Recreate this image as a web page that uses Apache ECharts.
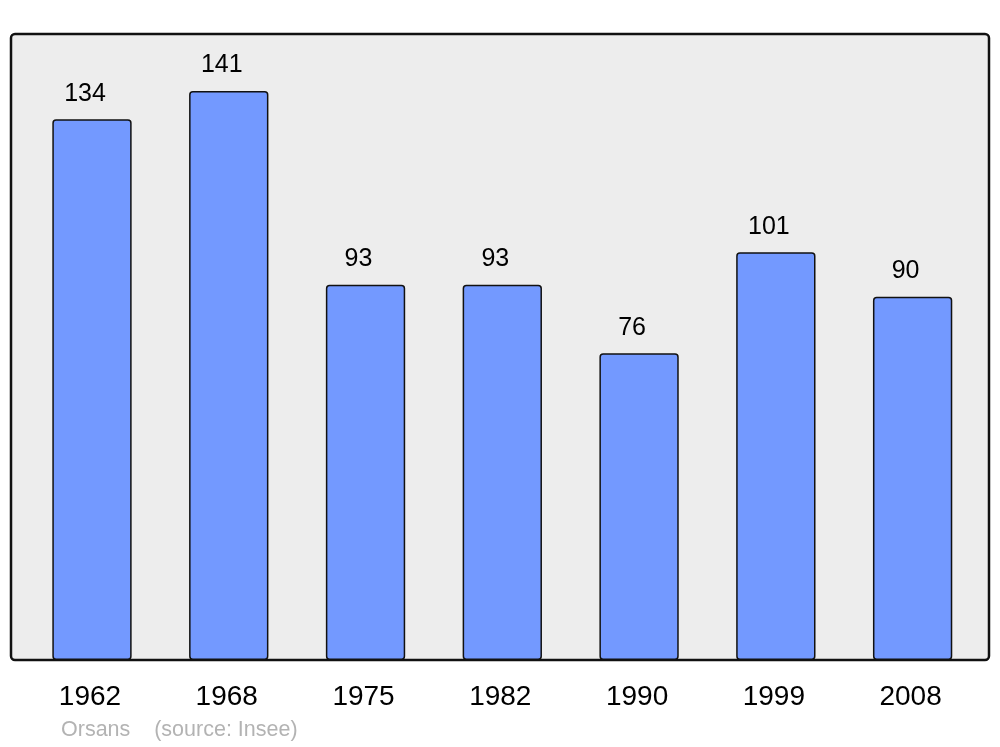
<!DOCTYPE html>
<html>
<head>
<meta charset="utf-8">
<script src="https://cdn.jsdelivr.net/npm/echarts@6/dist/echarts.min.js"></script>
<style>html,body{margin:0;padding:0;background:#fff}#c{width:1000px;height:747px}</style>
</head>
<body>
<div id="c"></div>
<script>
const categories = ['1962', '1968', '1975', '1982', '1990', '1999', '2008'];
const population = [134, 141, 93, 93, 76, 101, 90];
const footerName = 'Orsans';
const footerSource = '(source: Insee)';

const chart = echarts.init(document.getElementById('c'), null, {renderer: 'canvas'});
chart.setOption({
  animation: false,
  backgroundColor: '#ffffff',
  textStyle: {fontFamily: 'Liberation Sans'},
  grid: {left: 23.6, right: 19, top: 34, bottom: 87},
  graphic: [
    {type: 'rect', z: -10, shape: {x: 11, y: 34, width: 978, height: 626, r: 4},
     style: {fill: '#ededed', stroke: '#111', lineWidth: 2.5}},
    {type: 'text', left: 61, top: 719, style: {text: footerName + '    ' + footerSource, fill: '#b3b3b3', font: '21.5px "Liberation Sans"'}}
  ],
  xAxis: {
    type: 'category', data: categories,
    axisLine: {show: false}, axisTick: {show: false},
    axisLabel: {color: '#000', fontSize: 28, margin: 23, padding: [0, 4, 0, 0], fontFamily: 'Liberation Sans'}
  },
  yAxis: {type: 'value', min: 0, max: 155.1, show: false, splitLine: {show: false}},
  series: [{
    type: 'bar', data: population, barWidth: '58%',
    itemStyle: {color: '#7399ff', borderColor: '#111', borderWidth: 1.5, borderRadius: 3},
    label: {show: true, position: 'top', distance: 13, offset: [-7, 0], color: '#000', fontSize: 25, fontFamily: 'Liberation Sans'}
  }]
});
</script>
</body>
</html>
